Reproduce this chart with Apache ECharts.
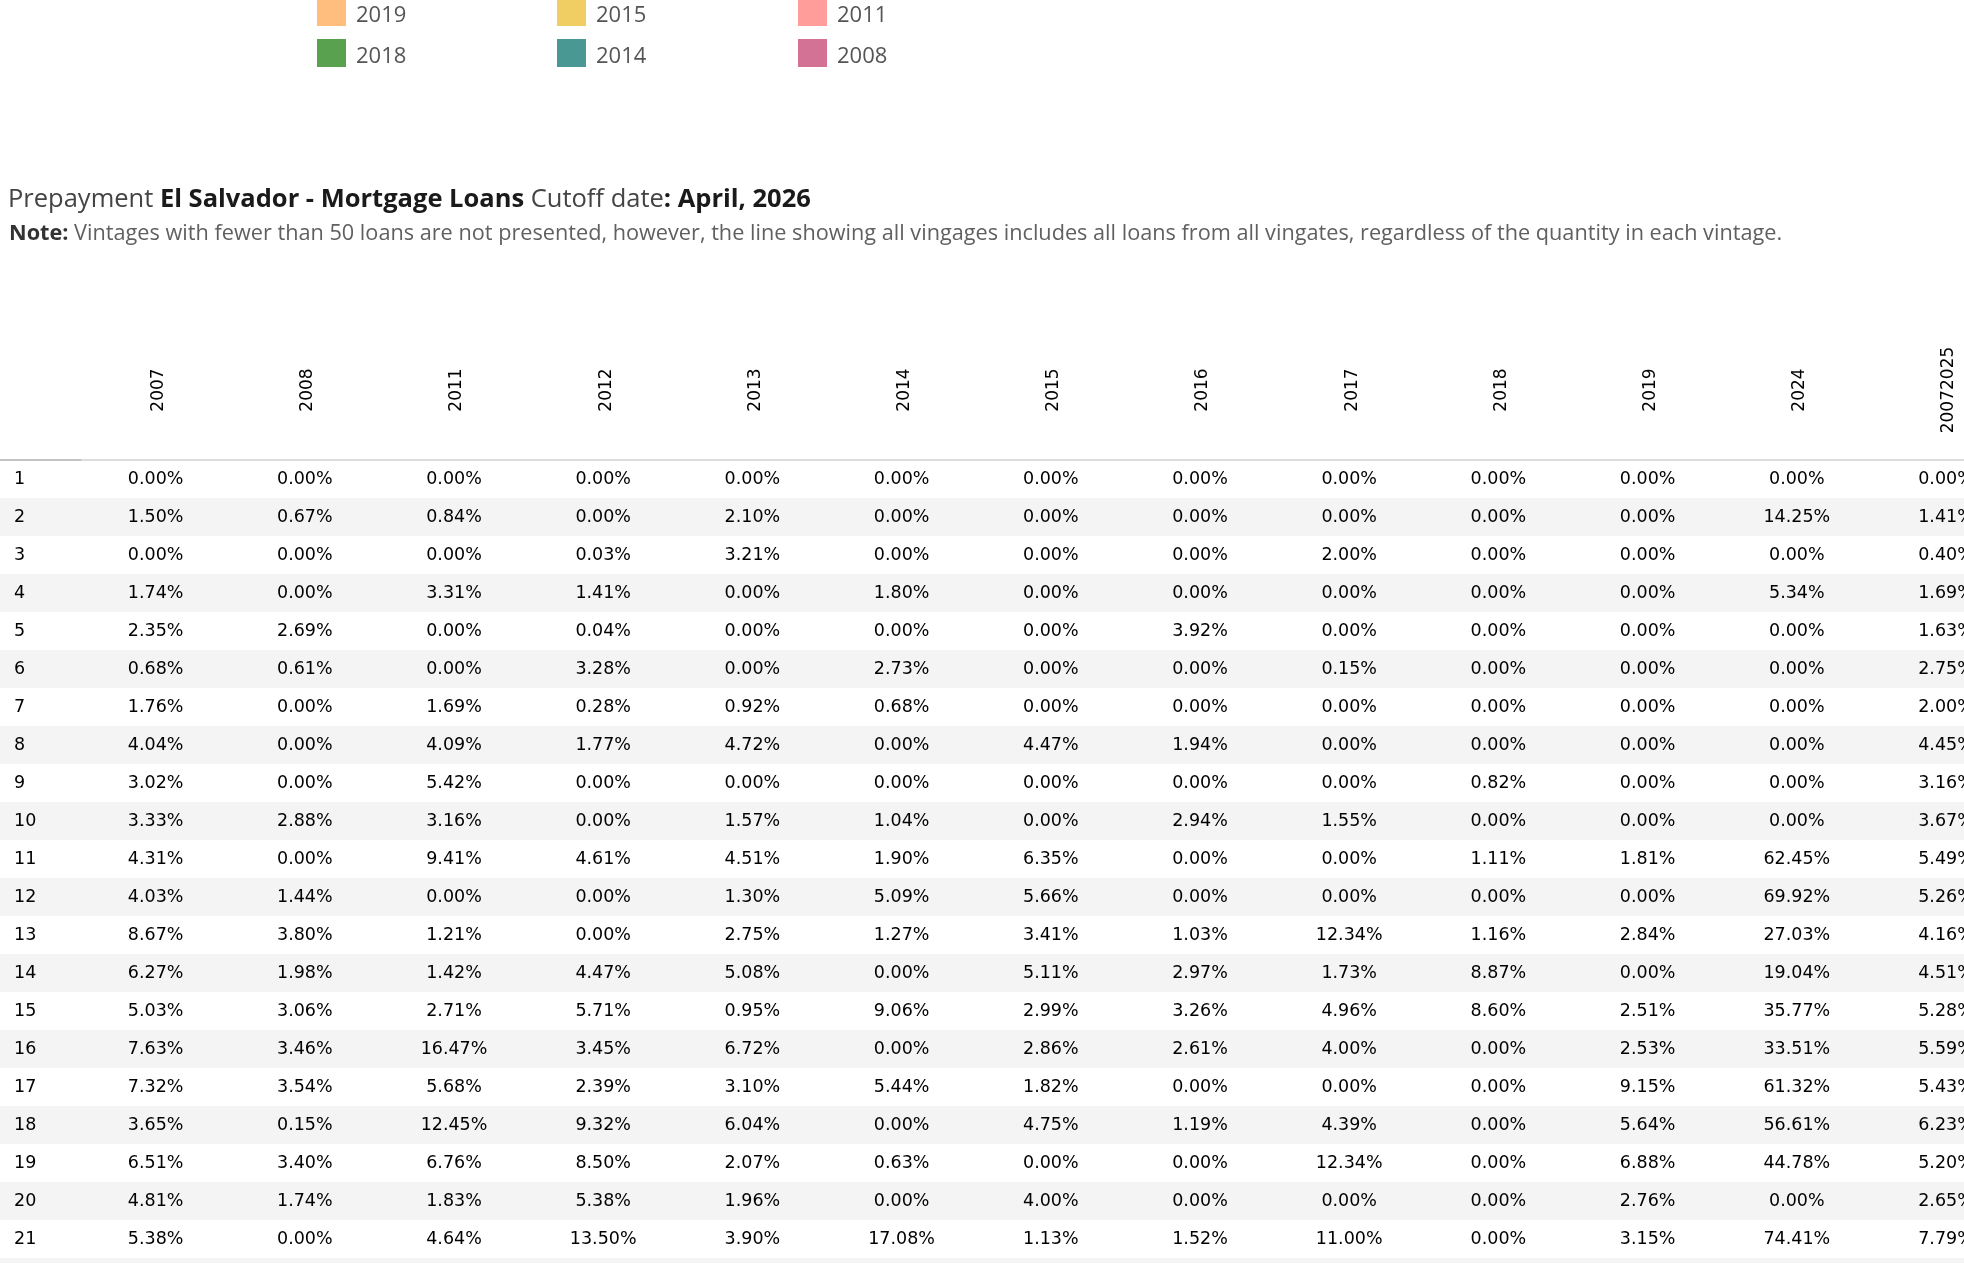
<!DOCTYPE html>
<html><head><meta charset="utf-8">
<script src="https://cdn.jsdelivr.net/npm/echarts@6/dist/echarts.min.js"></script>
<style>html,body{margin:0;padding:0;background:#fff;overflow:hidden;width:1964px;height:1263px}#c{width:2030px;height:1300px}</style>
</head><body><div id="c"></div>
<script>
// ---- data ----
const vintages = ['2007','2008','2011','2012','2013','2014','2015','2016','2017','2018','2019','2024','20072025'];
const rowLabels = ['1','2','3','4','5','6','7','8','9','10','11','12','13','14','15','16','17','18','19','20','21','22'];
const v2007 = [0.00,1.50,0.00,1.74,2.35,0.68,1.76,4.04,3.02,3.33,4.31,4.03,8.67,6.27,5.03,7.63,7.32,3.65,6.51,4.81,5.38];
const v2008 = [0.00,0.67,0.00,0.00,2.69,0.61,0.00,0.00,0.00,2.88,0.00,1.44,3.80,1.98,3.06,3.46,3.54,0.15,3.40,1.74,0.00];
const v2011 = [0.00,0.84,0.00,3.31,0.00,0.00,1.69,4.09,5.42,3.16,9.41,0.00,1.21,1.42,2.71,16.47,5.68,12.45,6.76,1.83,4.64];
const v2012 = [0.00,0.00,0.03,1.41,0.04,3.28,0.28,1.77,0.00,0.00,4.61,0.00,0.00,4.47,5.71,3.45,2.39,9.32,8.50,5.38,13.50];
const v2013 = [0.00,2.10,3.21,0.00,0.00,0.00,0.92,4.72,0.00,1.57,4.51,1.30,2.75,5.08,0.95,6.72,3.10,6.04,2.07,1.96,3.90];
const v2014 = [0.00,0.00,0.00,1.80,0.00,2.73,0.68,0.00,0.00,1.04,1.90,5.09,1.27,0.00,9.06,0.00,5.44,0.00,0.63,0.00,17.08];
const v2015 = [0.00,0.00,0.00,0.00,0.00,0.00,0.00,4.47,0.00,0.00,6.35,5.66,3.41,5.11,2.99,2.86,1.82,4.75,0.00,4.00,1.13];
const v2016 = [0.00,0.00,0.00,0.00,3.92,0.00,0.00,1.94,0.00,2.94,0.00,0.00,1.03,2.97,3.26,2.61,0.00,1.19,0.00,0.00,1.52];
const v2017 = [0.00,0.00,2.00,0.00,0.00,0.15,0.00,0.00,0.00,1.55,0.00,0.00,12.34,1.73,4.96,4.00,0.00,4.39,12.34,0.00,11.00];
const v2018 = [0.00,0.00,0.00,0.00,0.00,0.00,0.00,0.00,0.82,0.00,1.11,0.00,1.16,8.87,8.60,0.00,0.00,0.00,0.00,0.00,0.00];
const v2019 = [0.00,0.00,0.00,0.00,0.00,0.00,0.00,0.00,0.00,0.00,1.81,0.00,2.84,0.00,2.51,2.53,9.15,5.64,6.88,2.76,3.15];
const v2024 = [0.00,14.25,0.00,5.34,0.00,0.00,0.00,0.00,0.00,0.00,62.45,69.92,27.03,19.04,35.77,33.51,61.32,56.61,44.78,0.00,74.41];
const vAll  = [0.00,1.41,0.40,1.69,1.63,2.75,2.00,4.45,3.16,3.67,5.49,5.26,4.16,4.51,5.28,5.59,5.43,6.23,5.20,2.65,7.79];
const seriesValues = [v2007,v2008,v2011,v2012,v2013,v2014,v2015,v2016,v2017,v2018,v2019,v2024,vAll];
const vintageColors = ['#FABFD2','#D37295','#FF9D9A','#E15759','#86BCB6','#499894','#F1CE63','#B6992D','#8CD17D','#59A14F','#FFBE7D','#F28E2B','#4E79A7'];
const legendColumns = [['2019','2018'],['2015','2014'],['2011','2008']];
const titleText = '{r|Prepayment }{b|El Salvador - Mortgage Loans}{r| Cutoff date}{b|: April, 2026}';
const noteText = '{b|Note:}{r| Vintages with fewer than 50 loans are not presented, however, the line showing all vingages includes all loans from all vingates, regardless of the quantity in each vintage.}';

// ---- layout ----
const TOP = 460, ROW_H = 38, COL_W = 149.2, ROWHEAD_W = 81;
const cellFont = {fontFamily:'DejaVu Sans', fontSize:17.5, color:'#000'};

const chart = echarts.init(document.getElementById('c'), null, {renderer:'canvas'});

const series = vintages.map((name, k) => ({
  name: name,
  type: 'scatter',
  xAxisIndex: 1, yAxisIndex: 1,
  symbolSize: 0,
  itemStyle: {color: vintageColors[k], opacity: 1},
  silent: true,
  clip: false,
  label: Object.assign({show:true, position:'inside', formatter: p => p.value[2].toFixed(2) + '%'}, cellFont),
  emphasis: {disabled:true},
  data: seriesValues[k].map((v, i) => [name, rowLabels[i], v])
}));

const legends = legendColumns.map((items, j) => ({
  data: items,
  orient: 'vertical',
  left: [317, 557, 798][j],
  top: -2,
  padding: 0,
  icon: 'rect',
  itemWidth: 29,
  itemHeight: 28,
  itemGap: 12,
  selectedMode: false,
  itemStyle: {opacity: 1},
  formatter: name => '{t|' + name + '}',
  textStyle: {fontFamily:'Open Sans', fontSize:22, color:'#555', padding:[0,0,0,5],
    rich: {t: {fontFamily:'Open Sans', fontSize:22, color:'#555', padding:[8,0,0,0]}}}
}));

chart.setOption({
  backgroundColor: '#fff',
  animation: false,
  title: [
    {text: titleText, left: 8, top: 186.5, padding: 0,
     textStyle: {fontWeight:'normal', rich: {
       r: {fontFamily:'Open Sans', fontSize:25.5, fontWeight:'normal', color:'#444'},
       b: {fontFamily:'Open Sans', fontSize:25.5, fontWeight:'bold', color:'#1a1a1a'}
     }}},
    {text: noteText, left: 9, top: 223, padding: 0,
     textStyle: {fontWeight:'normal', rich: {
       r: {fontFamily:'Open Sans', fontSize:21.7, fontWeight:'normal', color:'#606060'},
       b: {fontFamily:'Open Sans', fontSize:21.7, fontWeight:'bold', color:'#333'}
     }}}
  ],
  legend: legends,
  grid: [
    {left: 0, top: TOP, width: ROWHEAD_W, height: ROW_H * rowLabels.length},
    {left: ROWHEAD_W, top: TOP, width: COL_W * vintages.length, height: ROW_H * rowLabels.length}
  ],
  xAxis: [
    {gridIndex:0, type:'category', data:[''], position:'top',
     axisLine:{show:true, lineStyle:{color:'#c4c4c4', width:2}}, axisTick:{show:false}, axisLabel:{show:false}},
    {gridIndex:1, type:'category', data: vintages, position:'top',
     axisLine:{show:true, lineStyle:{color:'#d2d2d2', width:1.5}}, axisTick:{show:false},
     axisLabel:{show:true, interval:0, rotate:-90, align:'center', verticalAlign:'middle', margin:70,
       formatter: v => '{h|' + v + '}',
       rich: {h: {fontFamily:'DejaVu Sans', fontSize:17, color:'#000', padding:[6,0,0,0]}},
       fontFamily:'DejaVu Sans', fontSize:17, color:'#000'}}
  ],
  yAxis: [
    {gridIndex:0, type:'category', data: rowLabels, inverse:true,
     axisLine:{show:false}, axisTick:{show:false}, splitLine:{show:false},
     splitArea:{show:true, interval:0, areaStyle:{color:['#ffffff','#f4f4f4']}},
     axisLabel:Object.assign({show:true, inside:true, margin:14, align:'left', interval:0}, cellFont)},
    {gridIndex:1, type:'category', data: rowLabels, inverse:true,
     axisLine:{show:false}, axisTick:{show:false}, splitLine:{show:false},
     splitArea:{show:true, interval:0, areaStyle:{color:['#ffffff','#f4f4f4']}},
     axisLabel:{show:false}}
  ],
  series: series
});
</script></body></html>
